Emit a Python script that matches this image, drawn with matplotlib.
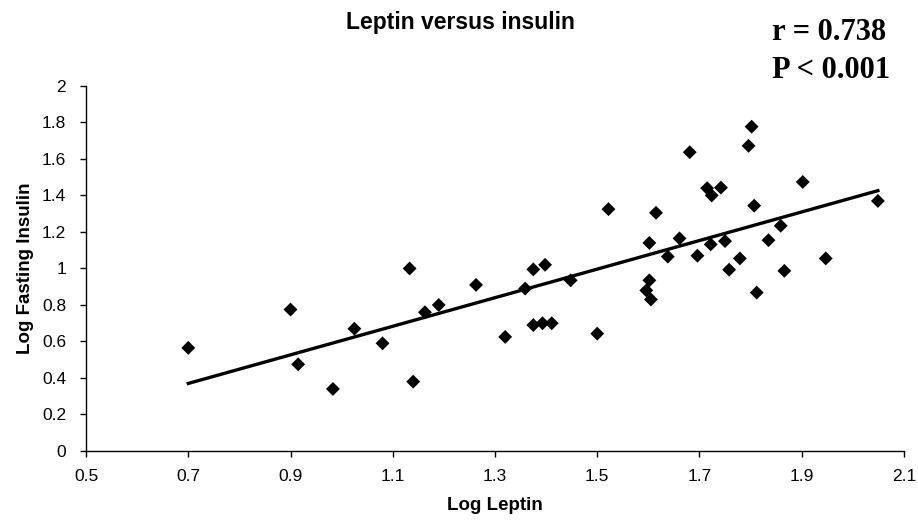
import matplotlib
matplotlib.use("Agg")
import matplotlib.pyplot as plt
import numpy as np

# values
log_leptin = [
    0.70, 0.90, 0.915, 0.983, 1.025, 1.08, 1.133, 1.14, 1.163, 1.19,
    1.263, 1.32, 1.359, 1.375, 1.398, 1.375, 1.393, 1.411, 1.448, 1.50,
    1.522, 1.602, 1.615, 1.602, 1.596, 1.605, 1.638, 1.661, 1.681, 1.696,
    1.715, 1.724, 1.742, 1.722, 1.75, 1.758, 1.779, 1.796, 1.802, 1.807,
    1.812, 1.835, 1.859, 1.866, 1.902, 1.947, 2.049,
]
log_insulin = [
    0.565, 0.775, 0.475, 0.34, 0.67, 0.59, 1.0, 0.38, 0.76, 0.80,
    0.91, 0.625, 0.89, 0.995, 1.02, 0.69, 0.70, 0.70, 0.935, 0.643,
    1.325, 1.14, 1.305, 0.935, 0.88, 0.83, 1.065, 1.165, 1.637, 1.07,
    1.44, 1.40, 1.443, 1.132, 1.15, 0.993, 1.055, 1.672, 1.777, 1.344,
    0.868, 1.155, 1.234, 0.987, 1.474, 1.055, 1.37,
]
fit_slope = 0.783
fit_intercept = -0.178
r_text = "r = 0.738"
p_text = "P < 0.001"

x_ticks = [0.5, 0.7, 0.9, 1.1, 1.3, 1.5, 1.7, 1.9, 2.1]
y_ticks = [0, 0.2, 0.4, 0.6, 0.8, 1.0, 1.2, 1.4, 1.6, 1.8, 2.0]
y_tick_labels = ["0", "0.2", "0.4", "0.6", "0.8", "1", "1.2", "1.4", "1.6", "1.8", "2"]

plt.rcParams["font.family"] = ["Liberation Sans", "DejaVu Sans"]

fig = plt.figure(figsize=(9.18, 5.2), dpi=100)
ax = fig.add_axes([0.0937, 0.1327, 0.891, 0.702])

ax.scatter(log_leptin, log_insulin, marker="D", s=50, color="black",
           edgecolors="none", zorder=3)

x_line = np.array([min(log_leptin), max(log_leptin)])
ax.plot(x_line, fit_slope * x_line + fit_intercept, color="black",
        linewidth=2.4, zorder=2)

ax.set_xlim(0.5, 2.1)
ax.set_ylim(0, 2)
ax.set_xticks(x_ticks)
ax.set_xticklabels([f"{t:.1f}" for t in x_ticks])
ax.set_yticks(y_ticks)
ax.set_yticklabels(y_tick_labels)
ax.tick_params(direction="out", length=4.3, width=1, labelsize=12.5)
ax.tick_params(axis="x", pad=9)
ax.tick_params(axis="y", pad=10)

for side in ("top", "right"):
    ax.spines[side].set_visible(False)
ax.spines["left"].set_linewidth(1)
ax.spines["bottom"].set_linewidth(1)

ax.set_xlabel("Log Leptin", fontsize=13.5, fontweight="bold", labelpad=9)
ax.set_ylabel("Log Fasting Insulin", fontsize=13.5, fontweight="bold", labelpad=6)

fig.text(460 / 918, 1 - 23 / 520, "Leptin versus insulin", ha="center",
         va="center", fontsize=16.5, fontweight="bold")
fig.text(772 / 918, 1 - 32 / 520, r_text, ha="left", va="center",
         fontsize=22, fontweight="bold", family="Liberation Serif")
fig.text(772 / 918, 1 - 70 / 520, p_text, ha="left", va="center",
         fontsize=22, fontweight="bold", family="Liberation Serif")

fig.savefig("out.png", dpi=100)
